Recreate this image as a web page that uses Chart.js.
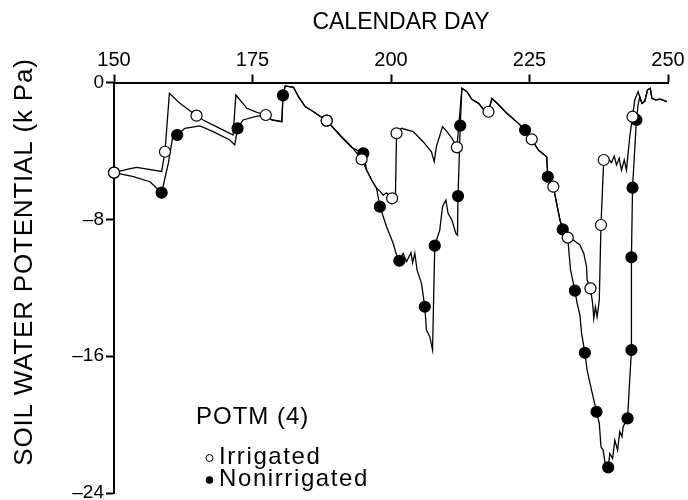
<!DOCTYPE html>
<html>
<head>
<meta charset="utf-8">
<script src="https://cdn.jsdelivr.net/npm/chart.js@4.4.1/dist/chart.umd.min.js"></script>
<style>
  html, body { margin: 0; background: #fff; }
  #wrap { width: 688px; height: 500px; }
</style>
</head>
<body>
<div id="wrap"><canvas id="chart"></canvas></div>
<script>
(() => {
  "use strict";

  // calendar day ticks / soil water potential ticks (kPa)
  const dayTicks = [150, 175, 200, 225, 250];
  const kpaTicks = [0, -8, -16, -24];

  // traced lines: [calendar day, kPa]
  const irrigatedTrace = [
    [150.0, -5.27], [152.9, -5.04], [154.1, -4.96], [158.6, -5.2], [159.2, -4.05],
    [160.0, -0.63], [161.9, -1.22], [164.9, -1.94], [166.1, -2.19], [169.1, -2.68],
    [171.5, -3.07], [172.0, -0.73], [174.0, -1.51], [175.8, -1.75], [177.4, -1.90],
    [178.5, -2.19], [180.3, -2.29], [180.5, -0.8], [180.9, -0.2], [182.4, -0.28],
    [183.3, -0.83], [184.5, -1.41], [186.0, -1.71], [188.4, -2.23], [190.8, -3.07],
    [192.9, -3.75], [194.7, -4.49], [195.6, -5.12], [196.5, -5.70], [197.4, -6.19],
    [198.0, -6.35], [198.6, -6.58], [199.2, -6.45], [200.2, -6.77], [200.8, -6.7],
    [201.0, -2.97], [201.9, -2.68], [204.0, -2.87], [205.8, -3.46], [207.3, -4.05],
    [207.8, -4.63], [208.2, -3.75], [209.3, -2.58], [210.1, -2.87], [211.0, -3.27],
    [211.9, -3.79], [212.8, -0.34], [213.7, -0.54], [214.6, -0.98], [215.8, -1.22],
    [216.7, -1.57], [217.6, -1.71], [218.2, -0.93], [219.1, -1.2], [220.9, -1.80],
    [223.0, -2.39], [224.2, -2.78], [225.4, -3.32], [226.6, -3.95], [228.1, -4.34],
    [228.3, -5.51], [229.3, -6.09], [229.9, -7.07], [230.5, -8.04], [231.0, -8.59],
    [231.9, -9.07], [232.9, -9.21], [234.1, -9.50], [234.8, -9.99], [235.3, -10.77],
    [235.4, -11.55], [236.0, -12.04], [236.4, -12.91], [236.6, -13.79], [236.9, -13.11],
    [237.2, -13.7], [237.6, -12.72], [237.9, -8.33], [238.4, -4.53], [239.2, -4.43],
    [239.8, -4.69], [240.3, -4.30], [240.7, -4.82], [241.2, -4.43], [241.6, -5.12],
    [242.1, -4.53], [242.5, -5.12], [243.1, -3.17], [243.6, -2.0], [244.0, -1.02],
    [244.6, -0.54], [244.9, -0.83], [245.3, -1.22], [245.8, -1.1], [246.3, -0.44],
    [246.8, -0.34], [247.1, -0.93], [247.7, -1.02], [248.6, -0.98], [249.8, -1.12]
  ];

  const nonirrigatedTrace = [
    [150.0, -5.27], [153.5, -5.5], [156.5, -5.8], [158.6, -6.44], [159.8, -4.73],
    [160.6, -3.17], [161.4, -3.07], [162.8, -2.68], [165.5, -2.54], [167.9, -2.87],
    [170.9, -3.36], [171.8, -3.65], [172.3, -2.68], [173.3, -2.19], [175.8, -1.97],
    [177.4, -1.94], [178.5, -2.19], [180.3, -2.29], [180.5, -0.75], [180.9, -0.2],
    [182.4, -0.28], [183.3, -0.83], [184.5, -1.41], [186.0, -1.71], [188.4, -2.23],
    [190.8, -3.1], [192.9, -3.8], [195.0, -4.14], [195.6, -5.12], [196.5, -5.70],
    [197.4, -6.19], [198.0, -7.26], [199.2, -8.43], [200.4, -9.41], [201.0, -10.09],
    [201.5, -10.42], [202.2, -9.99], [202.8, -10.48], [203.6, -9.95], [203.9, -10.54],
    [204.3, -9.99], [204.7, -10.96], [205.5, -11.74], [206.1, -13.11], [206.4, -14.47],
    [207.0, -14.86], [207.5, -15.64], [207.9, -9.54], [208.8, -8.63], [209.3, -7.26],
    [209.9, -6.87], [210.3, -7.65], [211.0, -8.04], [211.7, -8.82], [212.0, -8.92],
    [212.1, -6.64], [212.5, -2.52], [212.8, -0.34], [213.7, -0.54], [214.6, -0.98],
    [215.8, -1.22], [216.7, -1.57], [217.6, -1.71], [218.2, -0.93], [219.1, -1.2],
    [220.9, -1.80], [223.0, -2.39], [224.2, -2.78], [225.4, -3.32], [226.6, -3.95],
    [228.1, -4.34], [228.3, -5.51], [229.3, -6.09], [229.9, -7.07], [230.5, -8.04],
    [231.0, -8.59], [231.9, -9.07], [232.4, -10.96], [233.2, -12.17], [233.6, -12.91],
    [234.1, -13.60], [234.4, -14.67], [235.0, -15.80], [235.4, -16.81], [236.2, -17.98],
    [237.1, -19.25], [237.6, -19.93], [237.9, -21.3], [238.3, -21.49], [238.6, -22.17],
    [239.2, -22.5], [239.5, -21.69], [240.0, -21.98], [240.4, -20.91], [240.9, -21.49],
    [241.3, -20.42], [241.7, -20.71], [241.9, -20.13], [242.7, -19.64], [243.4, -15.64],
    [243.4, -10.22], [243.6, -6.15], [244.3, -2.19], [244.6, -1.32], [244.9, -0.83],
    [245.3, -1.22], [245.8, -1.1], [246.3, -0.44], [246.8, -0.34], [247.1, -0.93],
    [247.7, -1.02], [248.6, -0.98], [249.8, -1.12]
  ];

  // measured readings (circles)
  const irrigatedDays = [150.0, 159.2, 164.9, 177.4, 188.4, 194.7, 200.2, 201.0, 211.9,
    217.6, 225.4, 229.3, 231.9, 236.0, 237.9, 238.4, 243.6];
  const irrigatedKpa = [-5.27, -4.05, -1.94, -1.90, -2.23, -4.49, -6.77, -2.97, -3.79,
    -1.71, -3.32, -6.09, -9.07, -12.04, -8.33, -4.53, -2.0];

  const nonirrigatedDays = [150.0, 158.6, 161.4, 172.3, 180.5, 188.4, 195.0, 198.0, 201.5,
    206.1, 207.9, 212.1, 212.5, 224.2, 228.3, 231.0, 233.2, 235.0, 237.1, 239.2, 242.7,
    243.4, 243.4, 243.6, 244.3];
  const nonirrigatedKpa = [-5.27, -6.44, -3.07, -2.68, -0.75, -2.23, -4.14, -7.26, -10.42,
    -13.11, -9.54, -6.64, -2.52, -2.78, -5.51, -8.59, -12.17, -15.80, -19.25, -22.5, -19.64,
    -15.64, -10.22, -6.15, -2.19];

  const FONT = '"Liberation Sans", Arial, sans-serif';

  const toXY = pairs => pairs.map(([x, y]) => ({ x, y }));
  const zip = (xs, ys) => xs.map((x, i) => ({ x, y: ys[i] }));

  function lineSet(data) {
    return {
      data, showLine: true, pointRadius: 0, borderColor: "#000",
      borderWidth: 1.3, tension: 0, order: 2
    };
  }

  function markSet(data, fill) {
    return {
      data, showLine: false, pointRadius: 5.5, pointHoverRadius: 5.5,
      pointBackgroundColor: fill, pointBorderColor: "#000", pointBorderWidth: 1.2,
      clip: false, order: 1
    };
  }

  // axis titles and the in-plot key
  const annotations = {
    id: "annotations",
    afterDraw(chart) {
      const ctx = chart.ctx;
      ctx.save();
      ctx.fillStyle = "#000";
      ctx.strokeStyle = "#000";
      ctx.textBaseline = "middle";

      ctx.font = `23px ${FONT}`;
      ctx.textAlign = "center";
      ctx.fillText("CALENDAR DAY", 401, 23);

      ctx.save();
      ctx.translate(25, 262);
      ctx.rotate(-Math.PI / 2);
      ctx.font = `26px ${FONT}`;
      ctx.letterSpacing = "0.8px";
      ctx.fillText("SOIL WATER POTENTIAL (k Pa)", 0, 0);
      ctx.restore();

      ctx.textAlign = "left";
      ctx.font = `24px ${FONT}`;
      ctx.letterSpacing = "1px";
      ctx.fillText("POTM (4)", 196, 417);
      ctx.letterSpacing = "1.6px";
      ctx.fillText("Irrigated", 219, 457);
      ctx.fillText("Nonirrigated", 219, 479);
      ctx.letterSpacing = "0px";

      ctx.lineWidth = 1;
      ctx.beginPath();
      ctx.arc(209.5, 458, 3.5, 0, Math.PI * 2);
      ctx.stroke();
      ctx.beginPath();
      ctx.arc(209.5, 480, 3.8, 0, Math.PI * 2);
      ctx.fill();
      ctx.restore();
    }
  };

  new Chart(document.getElementById("chart"), {
    type: "scatter",
    data: {
      datasets: [
        lineSet(toXY(irrigatedTrace)),
        lineSet(toXY(nonirrigatedTrace)),
        markSet(zip(irrigatedDays, irrigatedKpa), "#fff"),
        markSet(zip(nonirrigatedDays, nonirrigatedKpa), "#000")
      ]
    },
    options: {
      responsive: true,
      maintainAspectRatio: false,
      animation: false,
      devicePixelRatio: 1,
      layout: { padding: { left: 0, right: 20, top: 0, bottom: 7 } },
      plugins: { legend: { display: false }, tooltip: { enabled: false } },
      scales: {
        x: {
          type: "linear",
          position: "top",
          min: dayTicks[0],
          max: dayTicks[dayTicks.length - 1],
          afterBuildTicks: s => { s.ticks = dayTicks.map(v => ({ value: v })); },
          afterFit: s => { s.height = 82.5; s.paddingLeft = 0; s.paddingRight = 0; },
          ticks: { color: "#000", font: { family: FONT, size: 20 }, padding: 2, maxRotation: 0 },
          grid: { drawOnChartArea: false, tickLength: 8, tickColor: "#000", tickWidth: 2 },
          border: { color: "#000", width: 2 }
        },
        y: {
          type: "linear",
          min: kpaTicks[kpaTicks.length - 1],
          max: kpaTicks[0],
          afterBuildTicks: s => { s.ticks = kpaTicks.map(v => ({ value: v })); },
          afterFit: s => { s.width = 114; s.paddingTop = 0; s.paddingBottom = 0; },
          ticks: {
            color: "#000", font: { family: FONT, size: 19 }, padding: 2,
            callback: v => (v < 0 ? "\u2013" + (-v) : String(v))
          },
          grid: { drawOnChartArea: false, tickLength: 8, tickColor: "#000", tickWidth: 2 },
          border: { color: "#000", width: 2 }
        }
      }
    },
    plugins: [annotations]
  });
})();
</script>
</body>
</html>
